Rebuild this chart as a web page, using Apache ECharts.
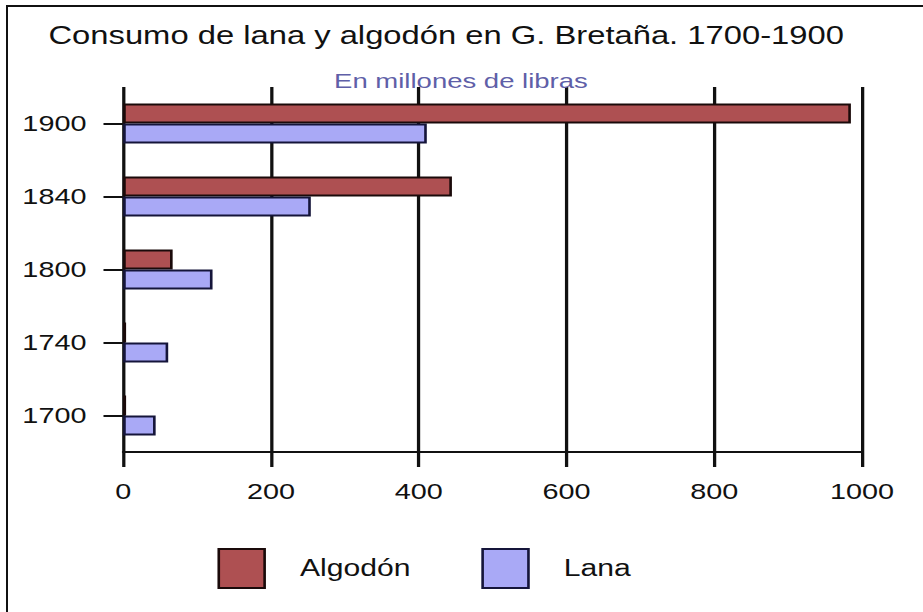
<!DOCTYPE html>
<html>
<head>
<meta charset="utf-8">
<script src="https://cdn.jsdelivr.net/npm/echarts@6/dist/echarts.min.js"></script>
<style>
  html, body { margin: 0; padding: 0; background: #fff; overflow: hidden; }
  #frame {
    position: absolute; left: 6px; top: 5px; width: 930px; height: 620px;
    border-top: 2px solid #111; border-left: 2px solid #111;
  }
  /* the source picture is stretched sideways, so the chart is drawn narrow and widened */
  #main {
    position: absolute; left: 0; top: 0; width: 705px; height: 612px;
    transform: scaleX(1.31); transform-origin: 0 0;
  }
</style>
</head>
<body>
<div id="frame"></div>
<div id="main"></div>
<script>
var years = ['1700', '1740', '1800', '1840', '1900'];
var algodon = [4, 4, 67, 445, 985];
var lana = [44, 61, 121, 254, 411];
var xTicks = [0, 1000, 200];

var myChart = echarts.init(document.getElementById('main'), null, { renderer: 'svg' });

var option = {
	backgroundColor: 'transparent',
	animation: false,
	title: [
		{
			text: 'Consumo de lana y algodón en G. Bretaña. 1700-1900',
			left: 32,
			top: 18,
			textStyle: { fontFamily: 'Liberation Sans', fontSize: 25, fontWeight: 'normal', color: '#111' }
		},
		{
			text: 'En millones de libras',
			left: 250,
			top: 65,
			textStyle: { fontFamily: 'Liberation Sans', fontSize: 21, fontWeight: 'normal', color: '#5f5fa8' }
		}
	],
	legend: {
		data: ['Algodón', 'Lana'],
		left: 161,
		top: 543,
		itemWidth: 35,
		itemHeight: 39,
		itemGap: 54,
		icon: 'rect',
		textStyle: {
			fontFamily: 'Liberation Sans',
			fontSize: 23,
			color: '#111',
			padding: [0, 0, 0, 22]
		}
	},
	grid: {
		left: 94,
		right: 47,
		top: 87,
		bottom: 160,
		containLabel: false
	},
	xAxis: {
		type: 'value',
		min: xTicks[0],
		max: xTicks[1],
		interval: xTicks[2],
		axisLine: { show: true, lineStyle: { color: '#111', width: 2 } },
		axisTick: { show: true, length: 15, lineStyle: { color: '#111', width: 2.5 } },
		axisLabel: {
			margin: 28, fontFamily: 'Liberation Sans', fontSize: 22, color: '#111',
			formatter: function (v) { return String(v); }
		},
		splitLine: { show: true, lineStyle: { color: '#111', width: 2.5 } }
	},
	yAxis: {
		type: 'category',
		data: years,
		axisLine: { show: false },
		axisTick: { show: true, alignWithLabel: true, length: 15, lineStyle: { color: '#111', width: 2 } },
		axisLabel: { margin: 28, fontFamily: 'Liberation Sans', fontSize: 22, color: '#111' },
		splitLine: { show: false }
	},
	series: [
		{
			name: 'Algodón',
			type: 'bar',
			data: algodon,
			barWidth: 20,
			barGap: 0,
			itemStyle: { color: '#ae5052', borderColor: '#1a0a0a', borderWidth: 2 }
		},
		{
			name: 'Lana',
			type: 'bar',
			data: lana,
			barWidth: 20,
			barGap: 0,
			itemStyle: { color: '#a9a9f6', borderColor: '#15153a', borderWidth: 2 }
		}
	]
};

myChart.setOption(option);
</script>
</body>
</html>
